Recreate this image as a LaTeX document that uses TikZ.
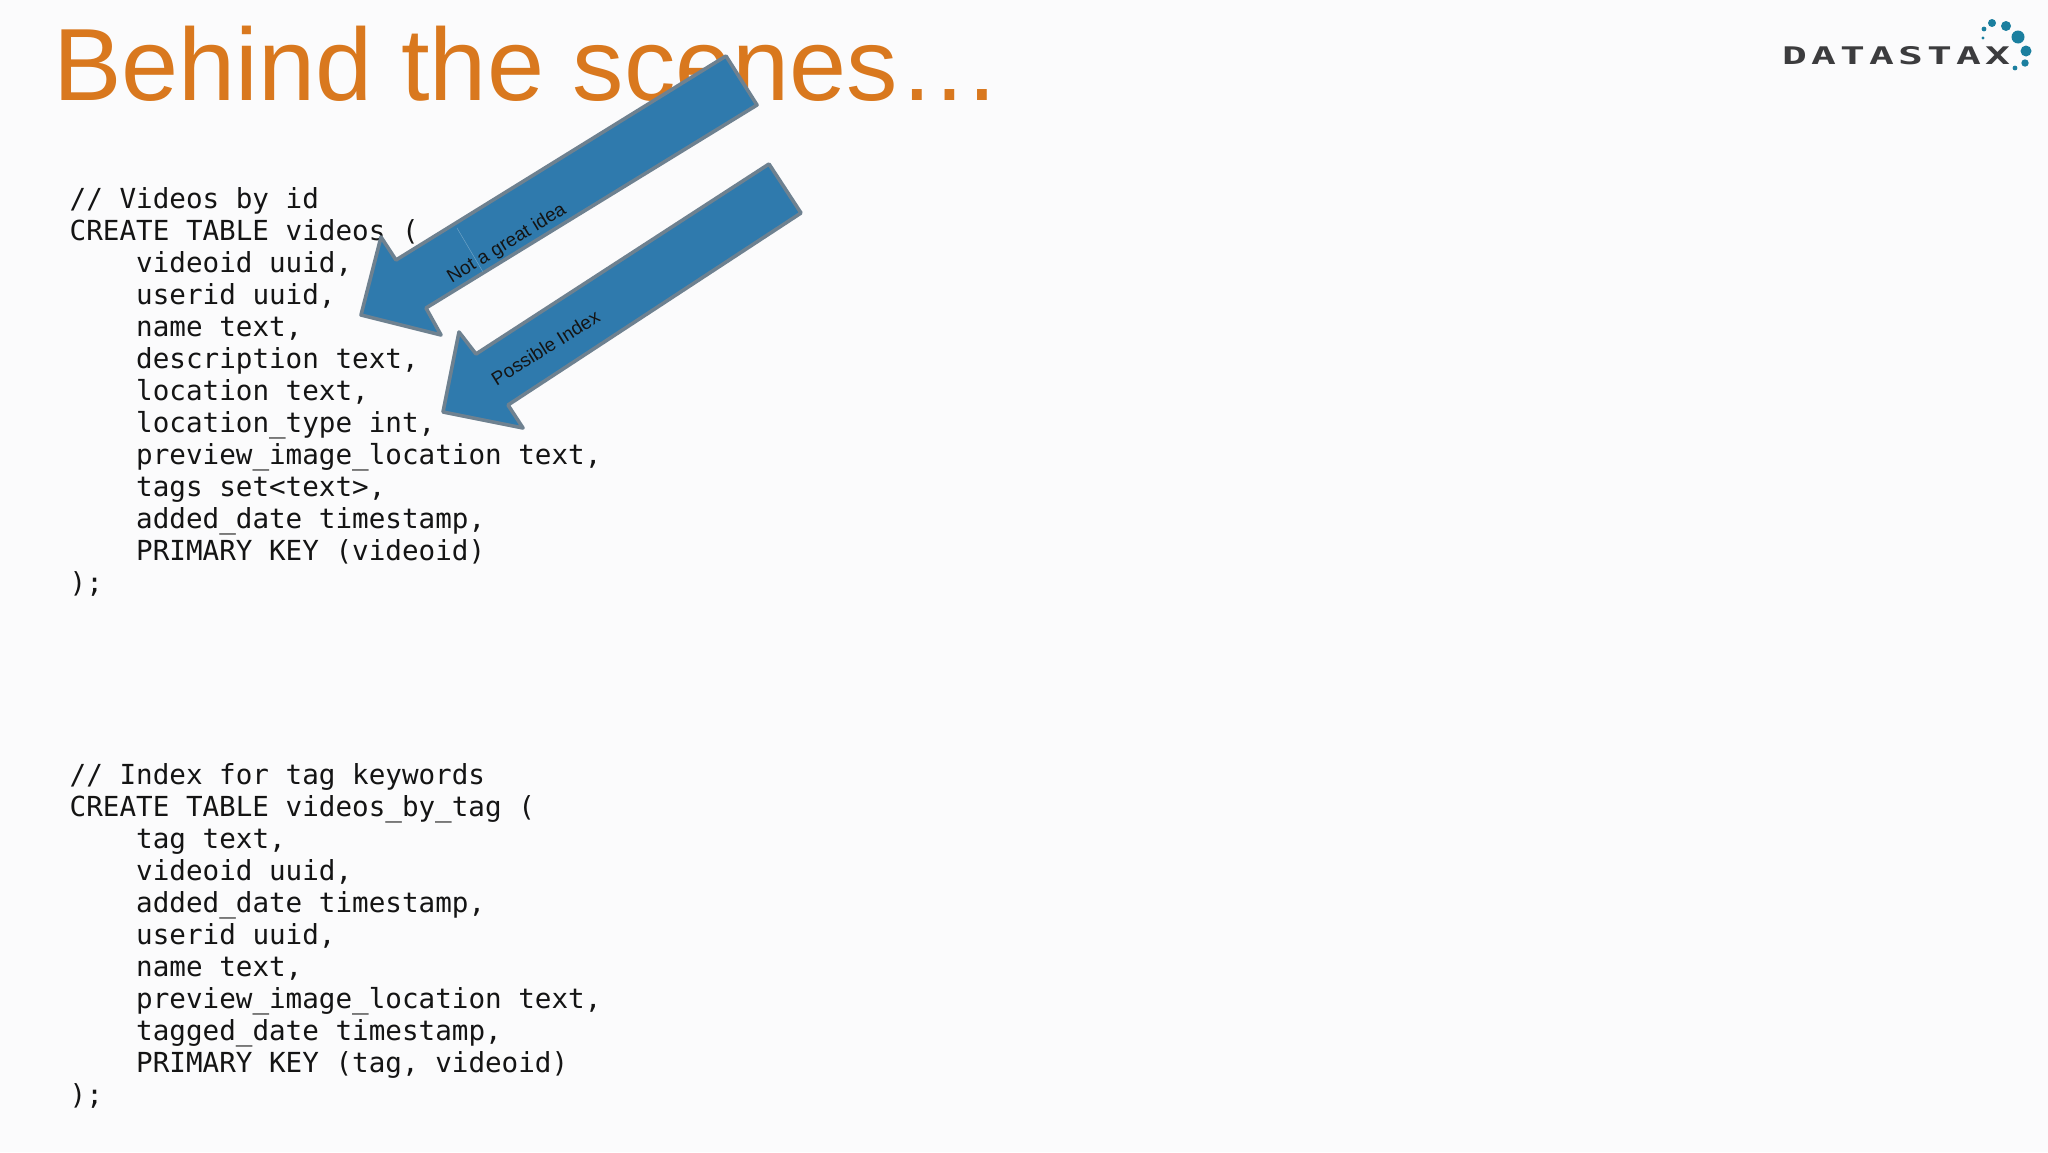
\documentclass[tikz,border=0pt]{standalone}
\usepackage{fontspec}
\setmainfont{Liberation Sans}
\newfontfamily\codefont{DejaVu Sans Mono}
\newfontfamily\logofont[LetterSpace=10]{DejaVu Sans Mono Bold}
\definecolor{pagebg}{HTML}{FBFBFC}
\definecolor{titleorange}{HTML}{D9781E}
\definecolor{arrowblue}{HTML}{2F7AAD}
\definecolor{arrowedge}{HTML}{6E8190}
\definecolor{logogrey}{HTML}{3C3C3E}
\definecolor{logoteal}{HTML}{1B7F9F}
\tikzset{
  titletext/.style={anchor=base west,inner sep=0pt,text=titleorange,font=\fontsize{102.7}{110}\selectfont},
  codetext/.style={anchor=base west,inner sep=0pt,text=black!92,font=\codefont\fontsize{27.6}{32}\selectfont},
  bigarrow/.style={fill=arrowblue,draw=arrowedge,line width=3.6pt,line join=round},
  arrowlabel/.style={inner sep=0pt,text=black!92,font=\fontsize{19}{22}\selectfont},
  logodot/.style={fill=logoteal,draw=none},
}
\newcommand{\codeline}[3]{\node[codetext] (#1) at (#2) {#3};}
\begin{document}
\begin{tikzpicture}[x=1pt,y=-1pt]
\useasboundingbox (0,0) rectangle (2048,1152);
\fill[pagebg] (0,0) rectangle (2048,1152);
\node[titletext] (title) at (53,100) {Behind the scenes…};
% first table
\codeline{a1}{69.5,208.5}{// Videos by id}
\codeline{a2}{69.5,240.5}{CREATE TABLE videos (}
\codeline{a3}{136,272.5}{videoid uuid,}
\codeline{a4}{136,304.5}{userid uuid,}
\codeline{a5}{136,336.5}{name text,}
\codeline{a6}{136,368.5}{description text,}
\codeline{a7}{136,400.5}{location text,}
\codeline{a8}{136,432.5}{location\_type int,}
\codeline{a9}{136,464.5}{preview\_image\_location text,}
\codeline{a10}{136,496.5}{tags set<text>,}
\codeline{a11}{136,528.5}{added\_date timestamp,}
\codeline{a12}{136,560.5}{PRIMARY KEY (videoid)}
\codeline{a13}{69.5,592.5}{);}
% second table
\codeline{b1}{69.5,784.5}{// Index for tag keywords}
\codeline{b2}{69.5,816.5}{CREATE TABLE videos\_by\_tag (}
\codeline{b3}{136,848.5}{tag text,}
\codeline{b4}{136,880.5}{videoid uuid,}
\codeline{b5}{136,912.5}{added\_date timestamp,}
\codeline{b6}{136,944.5}{userid uuid,}
\codeline{b7}{136,976.5}{name text,}
\codeline{b8}{136,1008.5}{preview\_image\_location text,}
\codeline{b9}{136,1040.5}{tagged\_date timestamp,}
\codeline{b10}{136,1072.5}{PRIMARY KEY (tag, videoid)}
\codeline{b11}{69.5,1104.5}{);}
% arrows
\draw[bigarrow] (726,56) -- (757,105) -- (426,308) -- (441,335) -- (361,315) -- (381,237) -- (396,260) -- cycle;
\draw[arrowblue!70!white,line width=0.5pt] (457,228) -- (483,272);
\node[arrowlabel,rotate=31.5] (idea) at (507,244) {Not a great idea};
\draw[bigarrow] (769,164) -- (801,213) -- (508,405) -- (523,428) -- (443,412) -- (459,332) -- (476,354) -- cycle;
\node[arrowlabel,rotate=32] (index) at (545.5,347.5) {Possible Index};
% logo
\node[inner sep=0pt,text=logogrey,anchor=center] (logo) at (1896,56)
  {\resizebox{228pt}{18pt}{\logofont DATASTAX}};
\fill[logodot] (1992,23) circle (4);
\fill[logodot] (2006,26) circle (5);
\fill[logodot] (2018,37) circle (6.5);
\fill[logodot] (2026,51) circle (5.5);
\fill[logodot] (2025,63) circle (3.7);
\fill[logodot] (2015,68) circle (2.4);
\fill[logodot] (1984,29) circle (2.4);
\fill[logodot] (1983,38) circle (1.7);
\end{tikzpicture}
\end{document}
